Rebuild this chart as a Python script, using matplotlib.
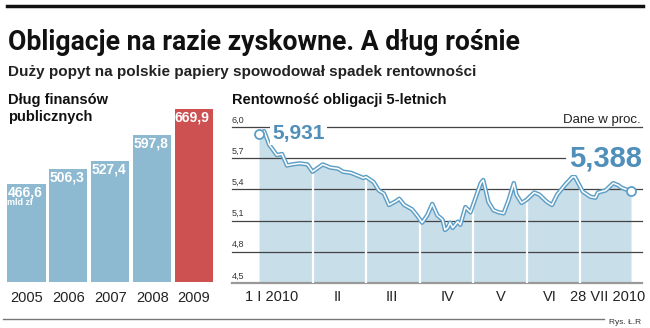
import numpy as np
import matplotlib.pyplot as plt

# --- dane ---
lata = ["2005", "2006", "2007", "2008", "2009"]
dlug = [466.6, 506.3, 527.4, 597.8, 669.9]
dlug_txt = ["466,6", "506,3", "527,4", "597,8", "669,9"]

# rentownosc obligacji 5-letnich (indeks sesji, wartosc w proc.)
sesja = [0, 2, 4, 7, 9, 11, 13, 16, 19, 21, 25, 28, 31, 33, 36, 38, 41, 42, 45, 47,
         49, 51, 54, 55, 57, 60, 62, 64, 66, 68, 70, 72, 73, 74, 75, 76, 78, 79, 81, 83,
         85, 87, 88, 90, 92, 94, 96, 98, 100, 101, 103, 105, 108, 110, 113, 115, 117, 120,
         123, 124, 127, 130, 132, 133, 136, 139, 141, 142, 144, 146]
rent = [5.931, 5.96, 5.83, 5.73, 5.74, 5.63, 5.64, 5.65, 5.64, 5.57, 5.64, 5.61, 5.60, 5.57,
        5.56, 5.54, 5.51, 5.52, 5.47, 5.39, 5.36, 5.25, 5.29, 5.31, 5.25, 5.21, 5.15, 5.08,
        5.15, 5.26, 5.15, 5.11, 5.01, 5.03, 5.08, 5.03, 5.09, 5.06, 5.23, 5.18, 5.32, 5.46,
        5.49, 5.28, 5.20, 5.18, 5.17, 5.30, 5.46, 5.35, 5.27, 5.30, 5.37, 5.35, 5.28, 5.25,
        5.35, 5.44, 5.52, 5.52, 5.38, 5.33, 5.32, 5.37, 5.39, 5.46, 5.44, 5.42, 5.40, 5.388]
poczatki_mies = [21, 42, 63, 84, 105, 126]
mies_pos = [5, 31, 52, 74, 95, 114, 137]
mies_txt = ["1 I 2010", "II", "III", "IV", "V", "VI", "28 VII 2010"]
siatka = [4.5, 4.8, 5.1, 5.4, 5.7, 6.0]

W, H = 650, 328
niebieski = "#8db9d1"
czerwony = "#cd5150"
wypelnienie = "#c8dee9"
linia = "#5e9fc7"
napis = "#4f8fba"
FONT = "Liberation Sans"

fig = plt.figure(figsize=(W / 100, H / 100), dpi=100)


def ax_px(x0, y0, x1, y1):
    # prostokat w pikselach (od gory)
    return fig.add_axes([x0 / W, 1 - y1 / H, (x1 - x0) / W, (y1 - y0) / H])


def txt(x, y, s, **kw):
    kw.setdefault("family", FONT)
    return fig.text(x / W, 1 - y / H, s, **kw)


# linie ramki
fig.add_artist(plt.Line2D([7 / W, 643 / W], [1 - 6 / H] * 2, color="#111", lw=2.5))
fig.add_artist(plt.Line2D([3 / W, 604 / W], [1 - 318.5 / H] * 2, color="#777", lw=1))

tytul = txt(8, 50, "Obligacje na razie zyskowne. A dług rośnie", family="Roboto",
            fontweight="bold", fontsize=20, color="#111", va="baseline")
# dopasowanie szerokosci tytulu do ok. 512 px
r = fig.canvas.get_renderer()
szer = tytul.get_window_extent(r).width
tytul.set_fontsize(20 * 512 / szer)

txt(8, 76, "Duży popyt na polskie papiery spowodował spadek rentowności",
    fontsize=11, fontweight="bold", color="#222", va="baseline")
txt(8, 104, "Dług finansów", fontsize=10.5, fontweight="bold", color="#111", va="baseline")
txt(8, 121, "publicznych", fontsize=10.5, fontweight="bold", color="#111", va="baseline")
txt(232, 104, "Rentowność obligacji 5-letnich", fontsize=10.5, fontweight="bold",
    color="#111", va="baseline")
txt(641, 123, "Dane w proc.", fontsize=9.5, color="#222", ha="right", va="baseline")
txt(641, 322, "Rys. Ł.R", fontsize=6, color="#333", ha="right", va="center")

# --- wykres slupkowy ---
ax1 = ax_px(5.5, 97.5, 215, 282)
kolory = [niebieski] * 4 + [czerwony]
ax1.bar(range(len(dlug)), dlug, width=0.91, color=kolory, bottom=0)
ax1.set_ylim(200, 700)
ax1.set_xlim(-0.5, 4.5)
ax1.axis("off")
for i, (v, s) in enumerate(zip(dlug, dlug_txt)):
    ax1.text(i - 0.455, v - 4, s, family=FONT, fontsize=10, fontweight="bold",
             color="white", ha="left", va="top")
    ax1.text(i, 157, lata[i], family=FONT, fontsize=10.5, color="#222",
             ha="center", va="center", clip_on=False)
ax1.text(-0.455, dlug[0] - 40, "mld zł", family=FONT, fontsize=6.5, fontweight="bold",
         color="white", ha="left", va="top")

# --- wykres liniowy ---
ax2 = ax_px(232, 127, 642, 283)
ax2.set_xlim(-10.6, 150.3)
ax2.set_ylim(4.5, 6.0)
ax2.axis("off")
ax2.fill_between(sesja, 4.5, rent, color=wypelnienie, lw=0, zorder=1)
for g in siatka:
    ax2.axhline(g, color="#999" if g == 4.5 else "#444", lw=1.6 if g == 4.5 else 0.9,
                zorder=2, clip_on=False)
    ax2.text(-10.6, g + 0.025, f"{g:.1f}".replace(".", ","), family=FONT, fontsize=6.5,
             color="#333", ha="left", va="bottom")
gora = np.interp(poczatki_mies, sesja, rent)
ax2.vlines(poczatki_mies, 4.5, gora, color="white", lw=1.6, zorder=3)
ax2.plot(sesja, rent, color=linia, lw=3.2, zorder=4, solid_joinstyle="round")
ax2.plot(sesja, rent, color="white", lw=1.1, zorder=5, solid_joinstyle="round")
ax2.plot([sesja[0], sesja[-1]], [rent[0], rent[-1]], "o", ms=6.5, mfc="white",
         mec=linia, mew=1.3, zorder=6)
ax2.text(5.3, 5.935, "5,931", family=FONT, fontsize=15, fontweight="bold", color=napis,
         ha="left", va="center", zorder=6,
         bbox=dict(fc="white", ec="none", pad=1.5))
ax2.text(150.3, 5.70, "5,388", family=FONT, fontsize=21, fontweight="bold", color=napis,
         ha="right", va="center", zorder=6,
         bbox=dict(fc="white", ec="none", pad=2))
for p, s in zip(mies_pos, mies_txt):
    ax2.text(p, 4.365, s, family=FONT, fontsize=10.5, color="#222", ha="center",
             va="center", clip_on=False)

fig.savefig("out.png", dpi=100)
